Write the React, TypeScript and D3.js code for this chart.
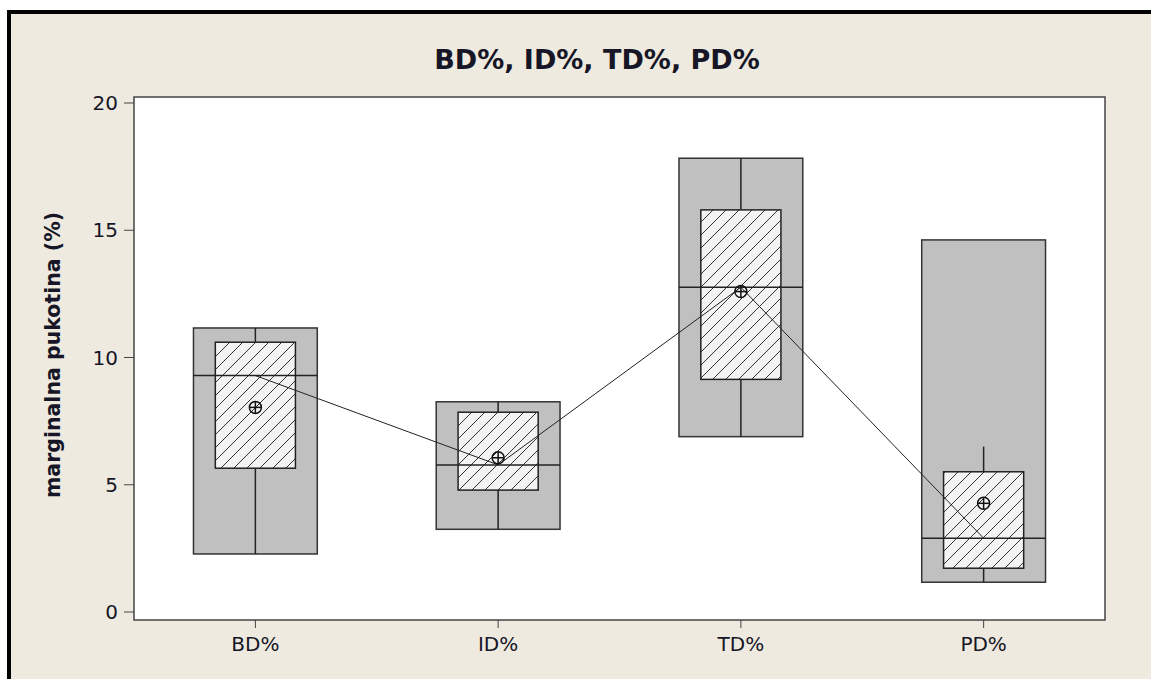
import * as d3 from "d3"

const categories = ["BD%", "ID%", "TD%", "PD%"]
const outerLow = [2.28, 3.25, 6.89, 1.17]
const outerHigh = [11.16, 8.26, 17.83, 14.62]
const innerLow = [5.65, 4.79, 9.14, 1.72]
const innerHigh = [10.6, 7.85, 15.8, 5.51]
const medians = [9.29, 5.78, 12.76, 2.9]
const means = [8.04, 6.06, 12.59, 4.27]
const whiskerLow = [2.28, 3.25, 6.89, 1.17]
const whiskerHigh = [11.16, 8.26, 17.83, 6.5]
const yTicks = [0, 5, 10, 15, 20]

const W = 1151
const H = 679
const frame = { left: 134, right: 1105, top: 97, bottom: 620 }

const App = () => {
  const x = d3
    .scaleBand()
    .domain(categories)
    .range([frame.left, frame.right])
  const y = d3.scaleLinear().domain([0, 20]).range([612, 103])

  const bw = x.bandwidth()
  const outerW = bw * 0.51
  const innerW = bw * 0.33
  const cx = (c: string) => x(c)! + bw / 2

  const medianLine = d3
    .line<number>()
    .x((_, i) => cx(categories[i]))
    .y((d) => y(d))

  const font = "'DejaVu Sans', Verdana, sans-serif"
  const ink = "#161626"

  return (
    <svg
      width={W}
      height={H}
      style={{ position: "absolute", left: 0, top: 0 }}
    >
      <defs>
        <pattern
          id="hatch"
          patternUnits="userSpaceOnUse"
          width={13}
          height={13}
        >
          <rect width={13} height={13} fill="#f3f3f3" />
          <path
            d="M-1,1 L1,-1 M0,13 L13,0 M12,14 L14,12"
            stroke="#333"
            strokeWidth={1}
          />
        </pattern>
      </defs>

      <rect x={0} y={0} width={W} height={H} fill="#fff" />
      <rect x={7} y={10} width={W - 7} height={H - 10} fill="#000" />
      <rect x={11} y={14} width={W - 11} height={H - 14} fill="#EEEAE0" />

      {/* title */}
      <text
        x={597}
        y={69}
        textAnchor="middle"
        fontFamily={font}
        fontWeight="bold"
        fontSize={27}
        fill={ink}
      >
        BD%, ID%, TD%, PD%
      </text>

      {/* plot frame */}
      <rect
        x={frame.left}
        y={frame.top}
        width={frame.right - frame.left}
        height={frame.bottom - frame.top}
        fill="#fff"
        stroke="#444"
        strokeWidth={1.5}
      />

      {/* y axis ticks */}
      {yTicks.map((t) => (
        <g key={t}>
          <line
            x1={frame.left - 10}
            x2={frame.left}
            y1={y(t)}
            y2={y(t)}
            stroke="#444"
            strokeWidth={1}
          />
          <text
            x={frame.left - 16}
            y={y(t) + 7}
            textAnchor="end"
            fontFamily={font}
            fontSize={20}
            fill={ink}
          >
            {t}
          </text>
        </g>
      ))}

      <text
        transform={`translate(60,355) rotate(-90)`}
        textAnchor="middle"
        fontFamily={font}
        fontWeight="bold"
        fontSize={20.5}
        fill={ink}
      >
        marginalna pukotina (%)
      </text>

      {/* x axis ticks */}
      {categories.map((c) => (
        <g key={c}>
          <line
            x1={cx(c)}
            x2={cx(c)}
            y1={frame.bottom}
            y2={frame.bottom + 8}
            stroke="#444"
            strokeWidth={1}
          />
          <text
            x={cx(c)}
            y={651}
            textAnchor="middle"
            fontFamily={font}
            fontSize={20}
            fill={ink}
          >
            {c}
          </text>
        </g>
      ))}

      {/* boxes */}
      {categories.map((c, i) => (
        <g key={c}>
          <rect
            x={cx(c) - outerW / 2}
            y={y(outerHigh[i])}
            width={outerW}
            height={y(outerLow[i]) - y(outerHigh[i])}
            fill="#c0c0c0"
            stroke="#333"
            strokeWidth={1.5}
          />
          <line
            x1={cx(c)}
            x2={cx(c)}
            y1={y(whiskerLow[i])}
            y2={y(whiskerHigh[i])}
            stroke="#222"
            strokeWidth={1.5}
          />
          <rect
            x={cx(c) - innerW / 2}
            y={y(innerHigh[i])}
            width={innerW}
            height={y(innerLow[i]) - y(innerHigh[i])}
            fill="url(#hatch)"
            stroke="#222"
            strokeWidth={1.5}
          />
          <line
            x1={cx(c) - outerW / 2}
            x2={cx(c) + outerW / 2}
            y1={y(medians[i])}
            y2={y(medians[i])}
            stroke="#222"
            strokeWidth={1.5}
          />
        </g>
      ))}

      <path
        d={medianLine(medians)!}
        fill="none"
        stroke="#222"
        strokeWidth={1}
      />

      {/* mean symbols */}
      {categories.map((c, i) => (
        <g
          key={c}
          transform={`translate(${cx(c)},${y(means[i])})`}
          stroke="#111"
          strokeWidth={1.5}
          fill="none"
        >
          <circle r={6} />
          <line x1={-6} x2={6} y1={0} y2={0} />
          <line x1={0} x2={0} y1={-6} y2={6} />
        </g>
      ))}
    </svg>
  )
}

export default App
